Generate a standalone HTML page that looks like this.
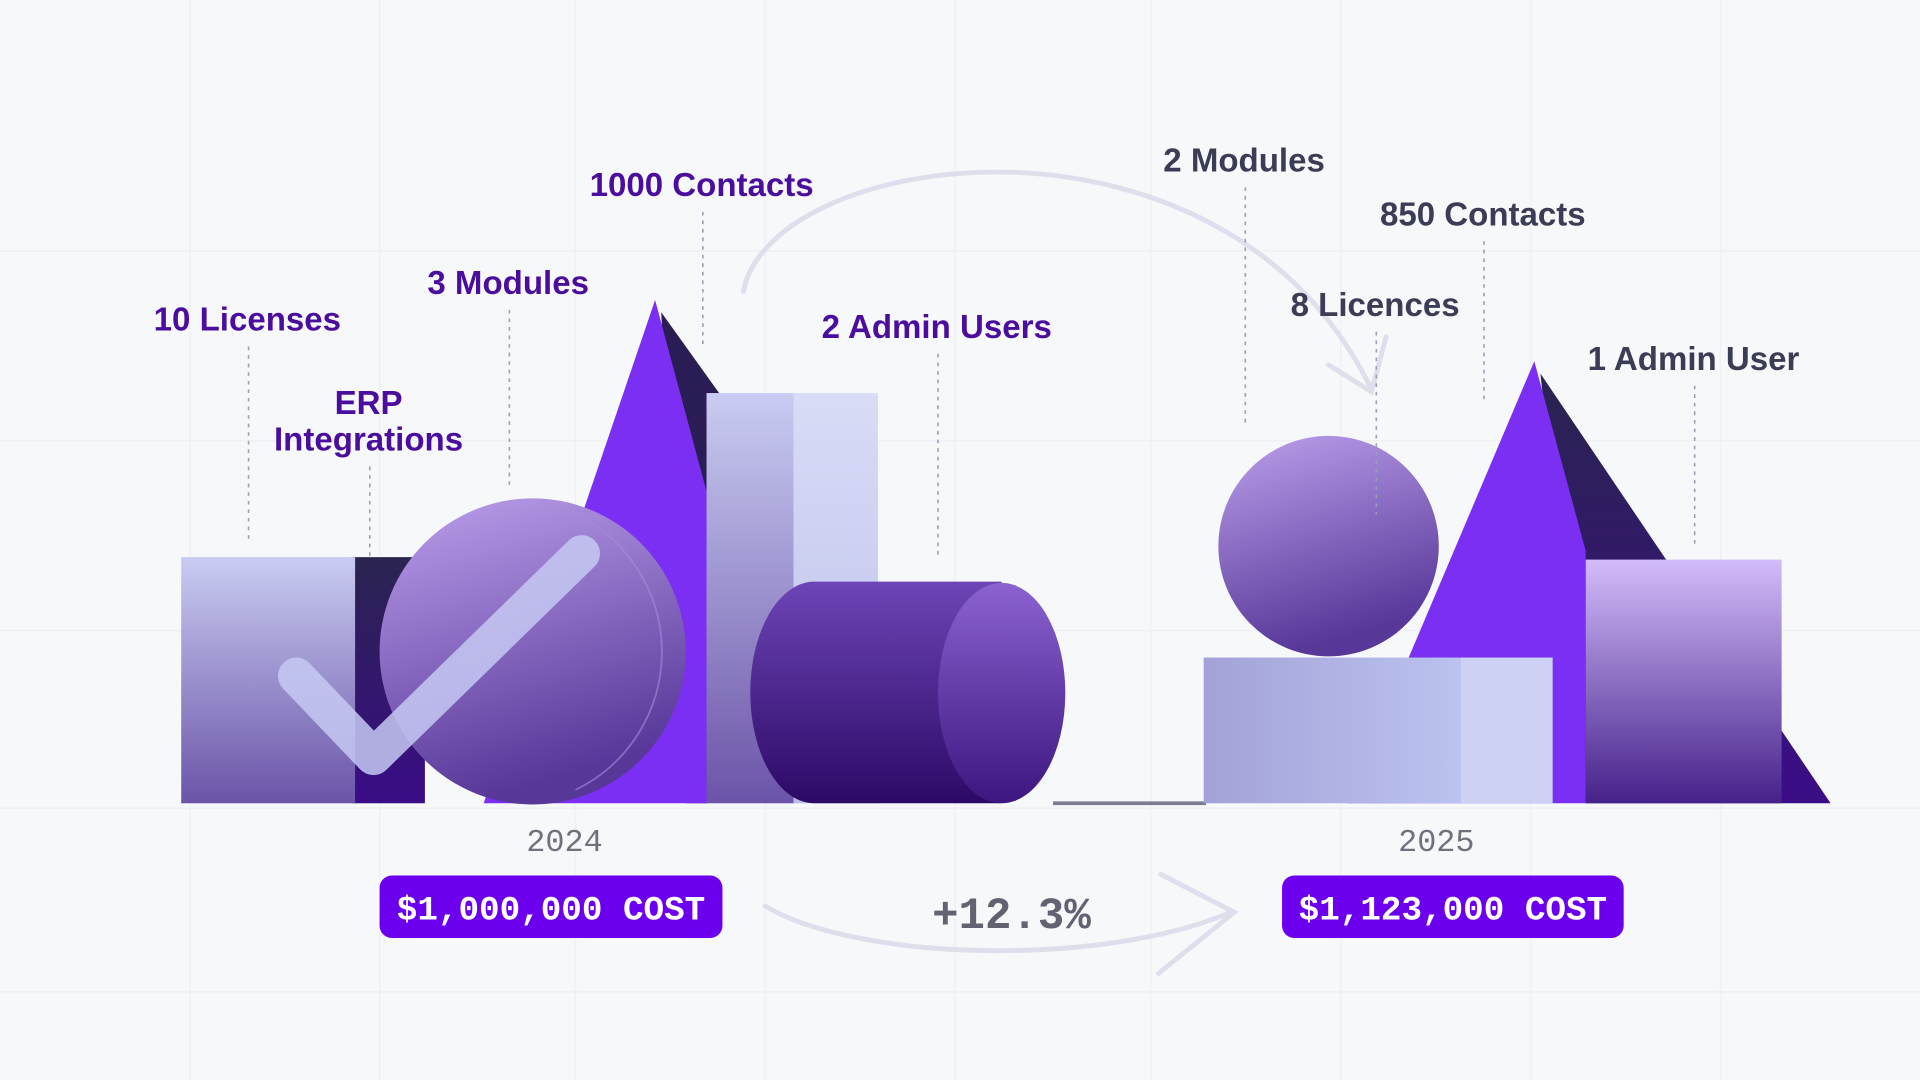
<!DOCTYPE html>
<html><head><meta charset="utf-8"><style>
html,body{margin:0;padding:0;background:#f7f8fa;}
svg{display:block;}
.lbl{font-family:"Liberation Sans",sans-serif;font-weight:bold;font-size:27px;text-anchor:middle;}
.p{fill:#4a0d9e}.g{fill:#3b3c55}
.mono{font-family:"Liberation Mono",monospace;text-anchor:middle;}
.dash{stroke:#9aa0b8;stroke-width:1.3;stroke-dasharray:3 4;}
</style></head><body>
<svg id="chart" width="1920" height="1080" viewBox="0 0 1568 882" xmlns="http://www.w3.org/2000/svg">
<defs>
<linearGradient id="lav" x1="0" y1="0" x2="0" y2="1"><stop offset="0" stop-color="#c9ccf2"/><stop offset="1" stop-color="#6b54a8"/></linearGradient>
<linearGradient id="lav2" x1="0" y1="0" x2="0" y2="1"><stop offset="0" stop-color="#d9dcf6"/><stop offset="1" stop-color="#b9bde9"/></linearGradient>
<linearGradient id="sph" x1="0" y1="0" x2="0.3" y2="1"><stop offset="0" stop-color="#bca0ec"/><stop offset="1" stop-color="#573798"/></linearGradient>
<linearGradient id="cyl" x1="0" y1="0" x2="0" y2="1"><stop offset="0" stop-color="#6d45b6"/><stop offset="1" stop-color="#2c0966"/></linearGradient>
<linearGradient id="cylf" x1="0" y1="0" x2="0" y2="1"><stop offset="0" stop-color="#8b62d0"/><stop offset="1" stop-color="#3d1680"/></linearGradient>
<linearGradient id="flat" x1="0" y1="0" x2="1" y2="0"><stop offset="0" stop-color="#a3a2d8"/><stop offset="1" stop-color="#bcc3f0"/></linearGradient>
<linearGradient id="rbox" x1="0" y1="0" x2="0" y2="1"><stop offset="0" stop-color="#d3bcfa"/><stop offset="1" stop-color="#45218a"/></linearGradient>
<linearGradient id="dk" x1="0" y1="0" x2="0" y2="1"><stop offset="0" stop-color="#2a2450"/><stop offset="1" stop-color="#3a0c86"/></linearGradient>
</defs>
<g id="grid" stroke="#eef0f4" stroke-width="1.2"></g>

<g fill="none" stroke="#dde0ec" stroke-width="4" stroke-linecap="round">
<path d="M607 238 C 630 120, 1000 70, 1120 318"/>
<path d="M1085 298 L1120 320 L1132 275"/>
</g>
<g fill="none" stroke="#dde0ec" stroke-width="4" stroke-linecap="round">
<path d="M625 740 C 700 785, 900 790, 1005 745"/>
<path d="M948 714 L1008 745 L946 795"/>
</g>

<g>
<rect x="287" y="455" width="60" height="201" fill="url(#dk)"/>
<rect x="148" y="455" width="142" height="201" fill="url(#lav)"/>
<polygon points="540,255 588,322 578,656 560,656" fill="#2a1d55"/>
<polygon points="535,245 578,405 578,656 395,656" fill="#7b2ff2"/>
<ellipse cx="435" cy="532" rx="125" ry="125" fill="url(#sph)"/>
<path d="M470 420 A125 125 0 0 1 470 645" stroke="#a88ad8" stroke-width="1.5" fill="none" opacity="0.6"/>
<polyline points="242,552 305,618 475,452" fill="none" stroke="#c5c9f3" stroke-opacity="0.85" stroke-width="30" stroke-linecap="round" stroke-linejoin="round"/>
<rect x="577" y="321" width="72" height="335" fill="url(#lav)"/>
<rect x="648" y="321" width="69" height="335" fill="url(#lav2)"/>
<path d="M665 475 L818 475 L818 656 L665 656 A52 90 0 0 1 665 475 Z" fill="url(#cyl)"/>
<ellipse cx="818" cy="566" rx="52" ry="90" fill="url(#cylf)"/>
<line x1="860" y1="656" x2="985" y2="656" stroke="#7a7c92" stroke-width="3"/>
</g>

<g>
<polygon points="1258,305 1495,656 1295,656" fill="url(#dk)"/>
<polygon points="1253,295 1295,450 1295,656 1100,656" fill="#7b2ff2"/>
<rect x="983" y="537" width="212" height="119" fill="url(#flat)"/>
<rect x="1193" y="537" width="75" height="119" fill="#cdd2f5"/>
<ellipse cx="1085" cy="446" rx="90" ry="90" fill="url(#sph)"/>
<rect x="1295" y="457" width="160" height="199" fill="url(#rbox)"/>
</g>

<g id="labels"></g>
</svg>
<script>
const labelTexts = ["10 Licenses","ERP|Integrations","3 Modules","1000 Contacts","2 Admin Users","2 Modules","850 Contacts","8 Licences","1 Admin User"];
const labelYear = [2024,2024,2024,2024,2024,2025,2025,2025,2025];
const labelX = [202,301,415,573,765,1016,1211,1123,1383];
const labelY = [270,338,240,160,276,140,184,258,302];
const leaderEnd = [442,455,400,285,455,348,330,420,448];
const years = ["2024","2025"];
const costs = ["$1,000,000 COST","$1,123,000 COST"];
const change = ["+12.3%"];
const NS="http://www.w3.org/2000/svg";
const svg=document.getElementById('chart');
const grid=document.getElementById('grid');
[155,310,470,625,780,940,1095,1250,1405].forEach(x=>{const l=document.createElementNS(NS,'line');l.setAttribute('x1',x);l.setAttribute('x2',x);l.setAttribute('y1',0);l.setAttribute('y2',882);


grid.appendChild(l);});
[205,360,515,660,810].forEach(y=>{const l=document.createElementNS(NS,'line');l.setAttribute('y1',y);l.setAttribute('y2',y);l.setAttribute('x1',0);l.setAttribute('x2',1568);


grid.appendChild(l);});
const lg=document.getElementById('labels');
labelTexts.forEach((t,i)=>{
 const parts=t.split('|');
 const txt=document.createElementNS(NS,'text');
 txt.setAttribute('class','lbl '+(labelYear[i]===2024?'p':'g'));
 
 
 parts.forEach((p,j)=>{const ts=document.createElementNS(NS,'tspan');ts.setAttribute('x',labelX[i]);ts.setAttribute('y',labelY[i]+j*30);ts.textContent=p;txt.appendChild(ts);});
 lg.appendChild(txt);
 const ln=document.createElementNS(NS,'line');
 const top=labelY[i]+(parts.length-1)*30+13;
 ln.setAttribute('x1',labelX[i]+1);ln.setAttribute('x2',labelX[i]+1);ln.setAttribute('y1',top);ln.setAttribute('y2',leaderEnd[i]);
 ln.setAttribute('class','dash');
 
 
 lg.insertBefore(ln,lg.firstChild);
});
const yearX=[461,1173], pillX=[310,1047], pillW=[280,279];
years.forEach((y,i)=>{
 const t=document.createElementNS(NS,'text');t.setAttribute('class','mono');t.setAttribute('x',yearX[i]);t.setAttribute('y',695);t.setAttribute('font-size','26');t.setAttribute('fill','#70717f');t.textContent=y;
 
 
 svg.appendChild(t);
 const r=document.createElementNS(NS,'rect');r.setAttribute('x',pillX[i]);r.setAttribute('y',715);r.setAttribute('width',pillW[i]);r.setAttribute('height',51);r.setAttribute('rx',10);r.setAttribute('fill','#6c00ee');
 
 
 svg.appendChild(r);
 const c=document.createElementNS(NS,'text');c.setAttribute('class','mono');c.setAttribute('x',pillX[i]+pillW[i]/2);c.setAttribute('y',751);c.setAttribute('font-size','28');c.setAttribute('font-weight','bold');c.setAttribute('fill','#ffffff');c.textContent=costs[i];
 
 
 svg.appendChild(c);
});
const ch=document.createElementNS(NS,'text');ch.setAttribute('class','mono');ch.setAttribute('x',826);ch.setAttribute('y',758);ch.setAttribute('font-size','36');ch.setAttribute('font-weight','bold');ch.setAttribute('fill','#616272');ch.textContent=change[0];


svg.appendChild(ch);
</script>
</body></html>
